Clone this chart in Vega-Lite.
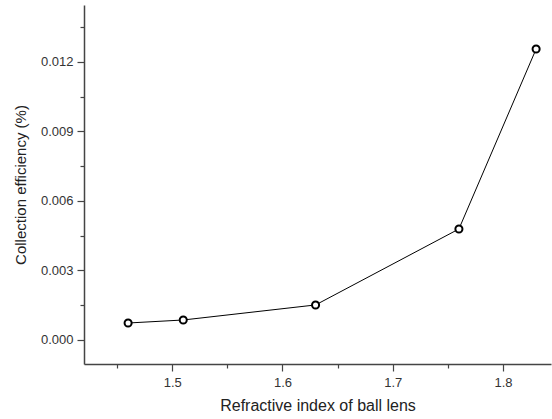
{
  "$schema": "https://vega.github.io/schema/vega-lite/v6.json",
  "width": 467,
  "height": 359,
  "autosize": {"type": "none"},
  "padding": {"left": 84, "top": 5, "right": 1, "bottom": 55},
  "background": "white",
  "config": {
    "view": {"stroke": null},
    "axis": {
      "domainColor": "#444444",
      "domainWidth": 1.5,
      "tickColor": "#444444",
      "tickWidth": 1.2,
      "grid": false,
      "labelFont": "Liberation Sans",
      "titleFont": "Liberation Sans",
      "labelColor": "#333333",
      "titleColor": "#222222",
      "labelFontSize": 13,
      "titleFontSize": 15,
      "titleFontWeight": "normal"
    }
  },
  "data": {
    "values": [
      {"n": 1.46, "eff": 0.00073},
      {"n": 1.51, "eff": 0.00086},
      {"n": 1.63, "eff": 0.00151},
      {"n": 1.76, "eff": 0.00479},
      {"n": 1.83, "eff": 0.01256}
    ]
  },
  "layer": [
    {
      "mark": {"type": "line", "color": "black", "strokeWidth": 1},
      "encoding": {
        "x": {
          "field": "n", "type": "quantitative",
          "scale": {"domain": [1.42, 1.8435], "nice": false, "zero": false},
          "axis": {"orient": "bottom", "values": [1.5, 1.6, 1.7, 1.8], "format": ".1f", "tickSize": 7, "labelPadding": 5, "title": "Refractive index of ball lens", "titleFontSize": 16, "titlePadding": 8}
        },
        "y": {
          "field": "eff", "type": "quantitative",
          "scale": {"domain": [-0.00104, 0.01446], "nice": false, "zero": false},
          "axis": {"orient": "left", "values": [0, 0.003, 0.006, 0.009, 0.012], "format": ".3f", "tickSize": 7, "labelPadding": 4, "title": "Collection efficiency (%)", "titlePadding": 12}
        }
      }
    },
    {
      "mark": {"type": "point", "shape": "circle", "filled": false, "fill": "white", "fillOpacity": 1, "stroke": "black", "strokeWidth": 2, "size": 50, "opacity": 1},
      "encoding": {
        "x": {
          "field": "n", "type": "quantitative",
          "axis": {"orient": "bottom", "values": [1.45, 1.55, 1.65, 1.75], "labels": false, "domain": false, "tickSize": 4, "title": null}
        },
        "y": {
          "field": "eff", "type": "quantitative",
          "axis": {"orient": "left", "values": [0.0015, 0.0045, 0.0075, 0.0105, 0.0135], "labels": false, "domain": false, "tickSize": 4, "title": null}
        }
      }
    }
  ],
  "resolve": {"axis": {"x": "independent", "y": "independent"}}
}
